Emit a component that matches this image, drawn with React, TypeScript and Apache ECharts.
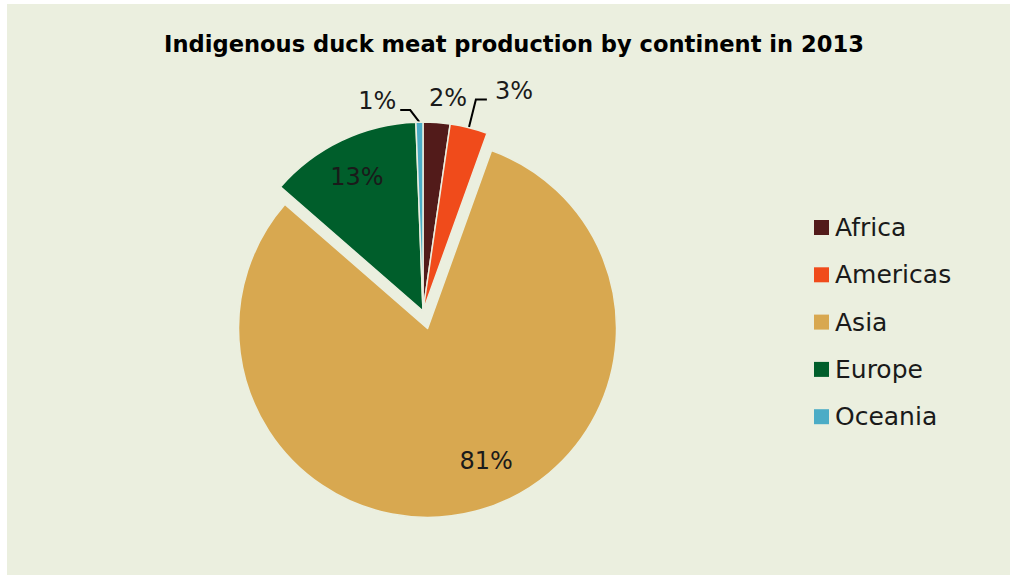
import React, { useEffect, useRef } from "react";
import * as echarts from "echarts";

const titleText = "Indigenous duck meat production by continent in 2013";
const continents = ["Africa", "Americas", "Asia", "Europe", "Oceania"];
const shares = [2.3, 3.2, 80.9, 13.0, 0.6];
const colors = ["#521B1A", "#F04B1B", "#D8A850", "#005E2B", "#4BACC6"];

const BG = "#EBEFDF";
const FONT = "'DejaVu Sans', sans-serif";

export default function App() {
  const ref = useRef<HTMLDivElement>(null);

  useEffect(() => {
    if (!ref.current) return;
    const chart = echarts.init(ref.current, undefined, { renderer: "svg" });

    const labelCfg: Record<string, any> = {
      Africa: { label: { position: "outside" }, labelLine: { show: false, length: 6, length2: 0 } },
      Americas: { label: { position: "outside" }, labelLine: { show: true, length: 29, length2: 11 } },
      Asia: { label: { position: "inside" }, labelLine: { show: false } },
      Europe: { label: { position: "inside" }, labelLine: { show: false } },
      Oceania: { label: { position: "outside" }, labelLine: { show: true, length: 12, length2: 10 } },
    };

    const data = continents.map((name, i) => ({
      name,
      value: shares[i],
      selected: name === "Asia",
      itemStyle: { color: colors[i] },
      label: labelCfg[name].label,
      labelLine: labelCfg[name].labelLine,
    }));

    // label nudges relative to the library's default placement
    const labelShift: Record<string, [number, number]> = {
      Africa: [-12, -19],
      Americas: [4, -9],
      Asia: [34, 38],
      Europe: [-24, -46],
      Oceania: [-9, -9],
    };
    // horizontal bend of Oceania's leader line (elbow moved left)
    const elbowShift: Record<string, number> = { Oceania: -9 };

    chart.setOption({
      animation: false,
      backgroundColor: "#ffffff",
      graphic: [
        {
          type: "rect",
          z: -10,
          shape: { x: 7, y: 4, width: 1003, height: 571 },
          style: { fill: BG },
          silent: true,
        },
      ],
      title: {
        text: titleText,
        left: 509,
        top: 27,
        textAlign: "center",
        textStyle: {
          fontFamily: FONT,
          fontWeight: "bold",
          fontSize: 22.6,
          color: "#000000",
        },
      },
      legend: {
        orient: "vertical",
        left: 814,
        top: 215,
        padding: 0,
        itemWidth: 15,
        itemHeight: 15,
        itemGap: 22.3,
        icon: "rect",
        selectedMode: false,
        data: continents,
        itemStyle: { borderWidth: 0 },
        textStyle: {
          fontFamily: FONT,
          fontSize: 25,
          color: "#1a1a1a",
          lineHeight: 24,
          padding: [0, 0, 0, 1],
        },
      },
      series: [
        {
          type: "pie",
          center: [423, 311],
          radius: 189,
          startAngle: 90,
          clockwise: true,
          selectedMode: "single",
          selectedOffset: 18,
          avoidLabelOverlap: false,
          percentPrecision: 0,
          emphasis: { disabled: true },
          itemStyle: { borderColor: BG, borderWidth: 1.5 },
          label: {
            formatter: "{d}%",
            fontFamily: FONT,
            fontSize: 24,
            color: "#1a1a1a",
            distanceToLabelLine: 4,
          },
          labelLine: {
            lineStyle: { color: "#000000", width: 2 },
          },
          labelLayout: (params: any) => {
            const name = continents[params.dataIndex];
            const s = labelShift[name];
            const out: any = {};
            if (s) {
              out.dx = s[0];
              out.dy = s[1];
            }
            const pts = params.labelLinePoints;
            if (pts && pts.length === 3) {
              const e = elbowShift[name] || 0;
              out.labelLinePoints = [
                [pts[0][0], pts[0][1]],
                [pts[1][0] + e, pts[1][1]],
                [pts[2][0] + e, pts[2][1]],
              ];
            }
            return out;
          },
          data,
        },
      ],
    });

    return () => chart.dispose();
  }, []);

  return (
    <div
      ref={ref}
      style={{ position: "absolute", left: 0, top: 0, width: 1013, height: 575 }}
    />
  );
}
